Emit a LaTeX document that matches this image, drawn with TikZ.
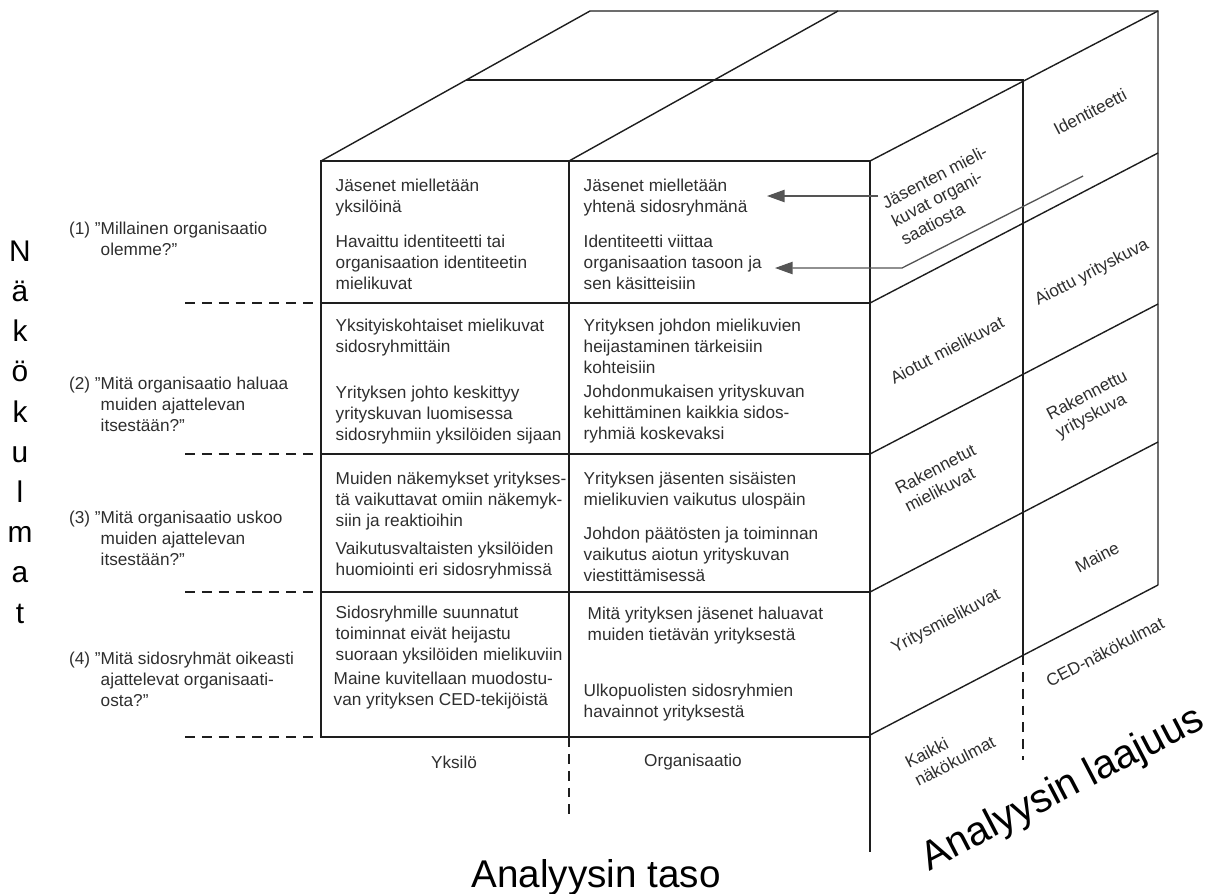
\documentclass[tikz,border=0pt]{standalone}
\usepackage{fontspec}
\setmainfont{Liberation Sans}
\usetikzlibrary{arrows.meta}
\definecolor{viiva}{HTML}{1E1E1E}
\definecolor{teksti}{HTML}{2E2E2E}
\definecolor{nuoli}{HTML}{555555}
\tikzset{
  solu/.style={anchor=north west, align=left, inner sep=0pt, text=teksti, font=\fontsize{9.8}{11.9}\selectfont},
  kylki/.style={rotate=27.5, align=left, inner sep=0pt, text=teksti, font=\fontsize{9.8}{11.6}\selectfont},
  katko/.style={dash pattern=on 5.6pt off 4pt},
  nuolet/.style={nuoli, line width=0.75pt, -{Triangle[length=10pt, width=7pt]}},
  otsikko/.style={inner sep=0pt, text=black, font=\fontsize{22}{26}\selectfont},
}
\newcommand{\kys}[2]{\llap{(#1) ”}#2}

\begin{document}
\begin{tikzpicture}[x=0.02cm, y=-0.02cm, thick, viiva]
  \useasboundingbox (0,0) rectangle (1222,893);
  \draw (321,161) rectangle (870,737);
  \draw (569,161) -- (569,737);
  \foreach \y in {303,454,592} \draw (321,\y) -- (870,\y);
  \draw (870,737) -- (870,852);
  \draw (321,161) -- (590,11) -- (1158,11) -- (1158,585);
  \draw (569,161) -- (838,11);
  \draw (870,161) -- (1158,11);
  \draw (466,80) -- (1023,80) -- (1023,655);
  \draw[katko] (1023,655) -- (1023,760);
  \foreach \y in {303,454,592,735} \draw (870,\y) -- (1158,\y-150);
  \foreach \y in {303,454,592,737} \draw[katko] (185,\y) -- (321,\y);
  \draw[katko] (569,737) -- (569,817);

  \node[solu] (y1a) at (335,178) {Jäsenet mielletään\\yksilöinä};
  \node[solu] (y1b) at (335,234) {Havaittu identiteetti tai\\organisaation identiteetin\\mielikuvat};
  \node[solu] (o1a) at (583,178) {Jäsenet mielletään\\yhtenä sidosryhmänä};
  \node[solu] (o1b) at (583,234) {Identiteetti viittaa\\organisaation tasoon ja\\sen käsitteisiin};
  \node[solu] (y2a) at (335,318) {Yksityiskohtaiset mielikuvat\\sidosryhmittäin};
  \node[solu] (y2b) at (335,385) {Yrityksen johto keskittyy\\yrityskuvan luomisessa\\sidosryhmiin yksilöiden sijaan};
  \node[solu] (o2a) at (583,318) {Yrityksen johdon mielikuvien\\heijastaminen tärkeisiin\\kohteisiin};
  \node[solu] (o2b) at (583,384) {Johdonmukaisen yrityskuvan\\kehittäminen kaikkia sidos-\\ryhmiä koskevaksi};
  \node[solu] (y3a) at (335,471) {Muiden näkemykset yritykses-\\tä vaikuttavat omiin näkemyk-\\siin ja reaktioihin};
  \node[solu] (y3b) at (335,541) {Vaikutusvaltaisten yksilöiden\\huomiointi eri sidosryhmissä};
  \node[solu] (o3a) at (583,471) {Yrityksen jäsenten sisäisten\\mielikuvien vaikutus ulospäin};
  \node[solu] (o3b) at (583,526) {Johdon päätösten ja toiminnan\\vaikutus aiotun yrityskuvan\\viestittämisessä};
  \node[solu] (y4a) at (335,605) {Sidosryhmille suunnatut\\toiminnat eivät heijastu\\suoraan yksilöiden mielikuviin};
  \node[solu] (y4b) at (333,671) {Maine kuvitellaan muodostu-\\van yrityksen CED-tekijöistä};
  \node[solu] (o4a) at (587,606) {Mitä yrityksen jäsenet haluavat\\muiden tietävän yrityksestä};
  \node[solu] (o4b) at (583,683) {Ulkopuolisten sidosryhmien\\havainnot yrityksestä};

  \node[solu] (k1) at (100,221) {\kys{1}{Millainen organisaatio}\\olemme?”};
  \node[solu] (k2) at (100,376) {\kys{2}{Mitä organisaatio haluaa}\\muiden ajattelevan\\itsestään?”};
  \node[solu] (k3) at (100,510) {\kys{3}{Mitä organisaatio uskoo}\\muiden ajattelevan\\itsestään?”};
  \node[solu] (k4) at (100,651) {\kys{4}{Mitä sidosryhmät oikeasti}\\ajattelevat organisaati-\\osta?”};

  \node[kylki] (jasen) at (944,195) {Jäsenten mieli-\\kuvat organi-\\saatiosta};
  \node[kylki] (aiotut) at (947,350) {Aiotut mielikuvat};
  \node[kylki] (rakmk) at (940,478) {Rakennetut\\mielikuvat};
  \node[kylki] (yritmk) at (946,622) {Yritysmielikuvat};
  \node[kylki] (kaikki) at (950,752) {Kaikki\\näkökulmat};
  \node[kylki] (ident) at (1090,112) {Identiteetti};
  \node[kylki] (aiottu) at (1092,273) {Aiottu yrityskuva};
  \node[kylki] (rakyk) at (1092,405) {Rakennettu\\yrityskuva};
  \node[kylki] (maine) at (1097,557) {Maine};
  \node[kylki] (ced) at (1105,652) {CED-näkökulmat};

  \node[solu, anchor=center] (yks) at (454,762) {Yksilö};
  \node[solu, anchor=center] (org) at (693,762) {Organisaatio};
  \node[otsikko, anchor=base] (taso) at (596,887) {Analyysin taso};
  \node[otsikko, anchor=base, rotate=27.5, font=\fontsize{23}{27}\selectfont] (laaj) at (1068,799) {Analyysin laajuus};
  \node[otsikko, align=center, font=\fontsize{17}{22.9}\selectfont] (nako) at (20,432) {N\\ä\\k\\ö\\k\\u\\l\\m\\a\\t};

  \coordinate (a1) at (878,196);
  \coordinate (b1) at (767,196);
  \draw[nuolet] (a1) -- (b1);
  \coordinate (a2) at (1083,176);
  \coordinate (m2) at (902,268);
  \coordinate (b2) at (775,268);
  \draw[nuolet] (a2) -- (m2) -- (b2);
\end{tikzpicture}
\end{document}
